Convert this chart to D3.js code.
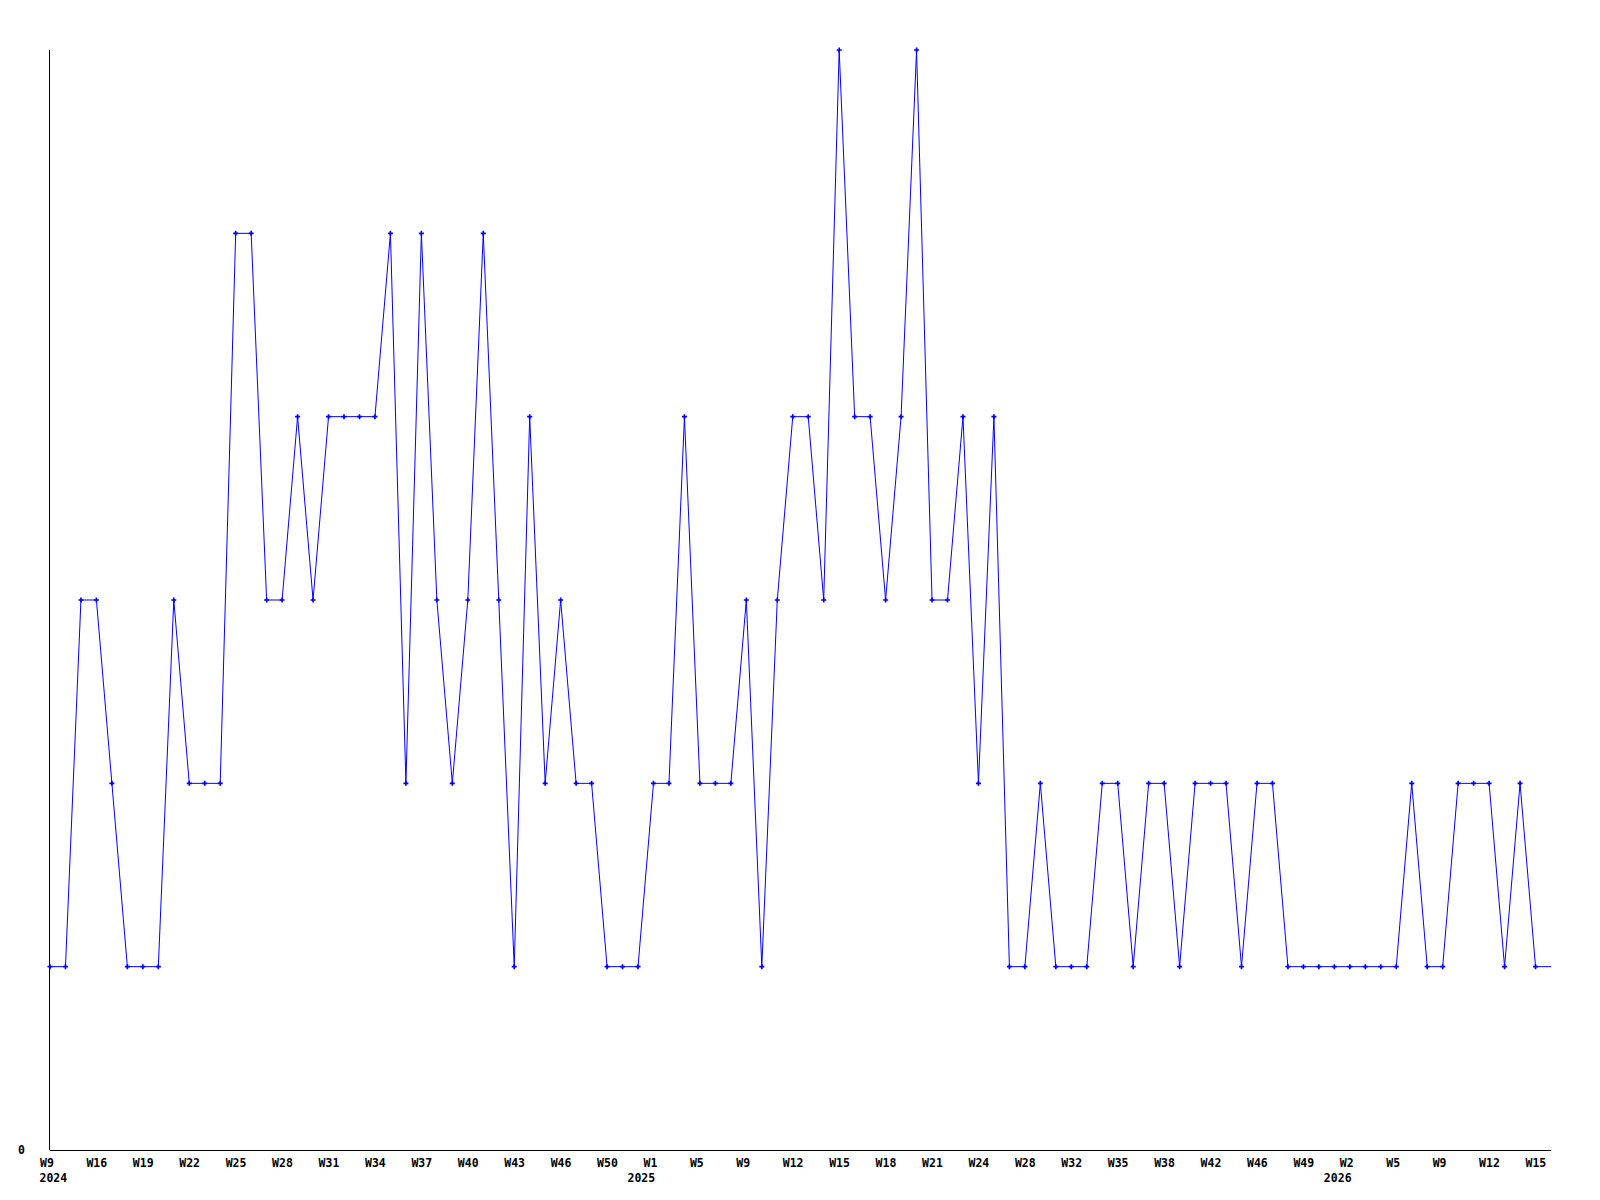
<!DOCTYPE html>
<html>
<head>
<meta charset="utf-8">
<script src="https://cdn.jsdelivr.net/npm/d3@7"></script>
<style>
  body { margin: 0; background: #fff; }
  text { font-family: "DejaVu Sans Mono", monospace; font-weight: bold; font-size: 11.5px; fill: #000; }
</style>
</head>
<body>
<div id="chart"></div>
<script>
// weekly counts, the last one is the running week (no marker)
const values = [
  1, 1, 3, 3, 2, 1, 1, 1, 3, 2, 2, 2, 5, 5, 3, 3, 4, 3, 4, 4,
  4, 4, 5, 2, 5, 3, 2, 3, 5, 3, 1, 4, 2, 3, 2, 2, 1, 1, 1, 2,
  2, 4, 2, 2, 2, 3, 1, 3, 4, 4, 3, 6, 4, 4, 3, 4, 6, 3, 3, 4,
  2, 4, 1, 1, 2, 1, 1, 1, 2, 2, 1, 2, 2, 1, 2, 2, 2, 1, 2, 2,
  1, 1, 1, 1, 1, 1, 1, 1, 2, 1, 1, 2, 2, 2, 1, 2, 1, 1
];

// one label every 3 points
const weekLabels = [
  'W9', 'W16', 'W19', 'W22', 'W25', 'W28', 'W31', 'W34', 'W37', 'W40', 'W43',
  'W46', 'W50', 'W1', 'W5', 'W9', 'W12', 'W15', 'W18', 'W21', 'W24', 'W28',
  'W32', 'W35', 'W38', 'W42', 'W46', 'W49', 'W2', 'W5', 'W9', 'W12', 'W15'
];
const labelStep = 3;

const years = ['2024', '2025', '2026'];
const yearIndex = [0, 38, 83];

const yTicks = [0];

const width = 1600, height = 1200;
const margin = {top: 50, right: 49, bottom: 50, left: 50};

const svg = d3.select('#chart').append('svg')
  .attr('width', width)
  .attr('height', height);

const x = d3.scaleLinear()
  .domain([0, values.length - 1])
  .range([margin.left, width - margin.right]);

const y = d3.scaleLinear()
  .domain([0, 6])
  .range([height - margin.bottom, margin.top]);

// x axis
const xAxis = svg.append('g')
  .attr('transform', 'translate(0,' + (height - margin.bottom) + ')')
  .call(d3.axisBottom(x)
    .tickValues(weekLabels.map((d, i) => i * labelStep))
    .tickFormat((d, i) => weekLabels[i])
    .tickSize(0).tickSizeOuter(0).tickPadding(9));
xAxis.select('.domain').attr('stroke', '#000').attr('d', 'M' + margin.left + ',0.5H' + (width - margin.right));
xAxis.selectAll('.tick text')
  .attr('text-anchor', 'start')
  .attr('dx', -10.5);
xAxis.attr('font-family', null).attr('font-size', null);

// year labels under the weeks
svg.append('g').selectAll('text')
  .data(years)
  .enter().append('text')
  .attr('x', (d, i) => x(yearIndex[i]) - 10.5)
  .attr('y', height - margin.bottom + 32)
  .text(d => d);

// y axis
const yAxis = svg.append('g')
  .attr('transform', 'translate(' + margin.left + ',0)')
  .call(d3.axisLeft(y).tickValues(yTicks).tickFormat(d3.format('d'))
    .tickSize(0).tickSizeOuter(0).tickPadding(25));
yAxis.select('.domain').attr('stroke', '#000').attr('d', 'M-0.5,' + margin.top + 'V' + (height - margin.bottom));
yAxis.attr('font-family', null).attr('font-size', null);

// line
const line = d3.line()
  .x((d, i) => x(i))
  .y(d => y(d));

svg.append('path')
  .datum(values)
  .attr('fill', 'none')
  .attr('stroke', '#0000ff')
  .attr('stroke-width', 1)
  .attr('d', line);

// markers (skip the running week)
svg.append('g').selectAll('path')
  .data(values.slice(0, -1))
  .enter().append('path')
  .attr('transform', (d, i) => 'translate(' + x(i) + ',' + y(d) + ')')
  .attr('d', d3.symbol(d3.symbolCross, 14))
  .attr('fill', '#0000ff');
</script>
</body>
</html>
